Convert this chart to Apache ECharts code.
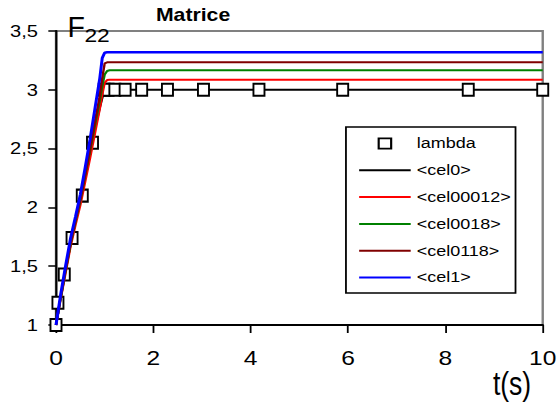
<!DOCTYPE html>
<html>
<head>
<meta charset="utf-8">
<script src="https://cdn.jsdelivr.net/npm/echarts@6/dist/echarts.min.js"></script>
<style>
html,body{margin:0;padding:0;background:#fff;overflow:hidden;width:560px;height:403px;}
#chart{width:467px;height:403px;transform:scaleX(1.19914);transform-origin:0 0;}
</style>
</head>
<body>
<div id="chart"></div>
<script>
// ---- data ----
const lambdaT = [0, 0.04, 0.17, 0.33, 0.54, 0.75, 0.99, 1.07, 1.21, 1.42, 1.76, 2.29, 3.03, 4.17, 5.89, 8.47, 10];
const lambdaV = [1, 1.19, 1.43, 1.74, 2.10, 2.55, 3, 3, 3, 3, 3, 3, 3, 3, 3, 3, 3];

const tLines   = [0, 0.1, 0.2, 0.3, 0.4, 0.5, 0.6, 0.7, 0.8, 0.9, 0.95, 1.0, 1.05, 1.1, 10];
const cel0     = [1, 1.24, 1.47, 1.69, 1.88, 2.06, 2.26, 2.46, 2.67, 2.85, 2.93, 3.0, 3.0, 3.0, 3.0];
const cel00012 = [1, 1.23, 1.45, 1.67, 1.85, 2.02, 2.22, 2.42, 2.63, 2.84, 2.96, 3.06, 3.083, 3.085, 3.085];
const cel0018  = [1, 1.24, 1.47, 1.69, 1.88, 2.06, 2.27, 2.48, 2.70, 2.91, 3.03, 3.13, 3.16, 3.166, 3.166];
const cel0118  = [1, 1.25, 1.48, 1.70, 1.89, 2.07, 2.28, 2.50, 2.73, 2.95, 3.10, 3.225, 3.234, 3.234, 3.234];
const cel1     = [1, 1.27, 1.51, 1.74, 1.92, 2.11, 2.34, 2.58, 2.84, 3.10, 3.27, 3.315, 3.319, 3.319, 3.319];

const seriesNames = ['lambda', '<cel0>', '<cel00012>', '<cel0018>', '<cel0118>', '<cel1>'];
const lineColors  = ['#000000', '#ff0000', '#008000', '#800000', '#0000ff'];
const lineValues  = [cel0, cel00012, cel0018, cel0118, cel1];

const titleText = 'Matrice';
const yName = 'F';
const yNameSub = '22';
const xName = 't(s)';

// ---- build ----
const FONT = 'Liberation Sans, Arial, sans-serif';
const pairs = (xs, ys) => xs.map((x, i) => [x, ys[i]]);

const lineSeries = lineValues.map((vals, i) => ({
  name: seriesNames[i + 1],
  type: 'line',
  data: pairs(tLines, vals),
  symbol: 'none',
  smooth: false,
  z: i === 0 ? 2 : 4,
  lineStyle: { color: lineColors[i], width: i === 4 ? 2.5 : 2 },
  itemStyle: { color: lineColors[i] }
}));

const lambdaSeries = {
  name: seriesNames[0],
  type: 'line',
  data: pairs(lambdaT, lambdaV),
  symbol: 'rect',
  symbolSize: [9.2, 12],
  showSymbol: true,
  z: 3,
  lineStyle: { width: 0 },
  itemStyle: { color: '#ffffff', borderColor: '#000000', borderWidth: 1.8 }
};

const chart = echarts.init(document.getElementById('chart'), null, { renderer: 'svg' });
chart.setOption({
  animation: false,
  backgroundColor: '#ffffff',
  grid: {
    left: 46.7, right: 12.5, top: 31, bottom: 78,
    show: true, borderColor: '#808080', borderWidth: 2, backgroundColor: 'transparent'
  },
  xAxis: {
    type: 'value', min: 0, max: 10, interval: 2,
    axisLine: { onZero: false, lineStyle: { color: '#000', width: 2 } },
    axisTick: { show: true, inside: false, length: 8, lineStyle: { color: '#000', width: 1.5 } },
    axisLabel: { color: '#000', fontFamily: FONT, fontSize: 20.5, margin: 23 },
    splitLine: { show: false }
  },
  yAxis: {
    type: 'value', min: 1, max: 3.5, interval: 0.5,
    axisLine: { show: true, onZero: false, lineStyle: { color: '#000', width: 1.8 } },
    axisTick: { show: true, inside: false, length: 6.4, lineStyle: { color: '#000', width: 1.5 } },
    axisLabel: {
      color: '#000', fontFamily: FONT, fontSize: 16.8, margin: 15,
      formatter: v => String(v).replace('.', ',')
    },
    splitLine: { show: false }
  },
  legend: {
    orient: 'vertical',
    left: 288.5, top: 127,
    padding: [9, 4, 8, 10],
    itemWidth: 43, itemHeight: 13, itemGap: 11.8,
    backgroundColor: '#ffffff',
    borderColor: '#000000', borderWidth: 1.5,
    textStyle: { color: '#000', fontFamily: FONT, fontSize: 15 },
    selectedMode: false,
    data: [
      { name: seriesNames[0], itemStyle: { color: '#ffffff', borderColor: '#000000', borderWidth: 1.8 } },
      ...seriesNames.slice(1).map(n => ({ name: n, itemStyle: { opacity: 0 } }))
    ]
  },
  graphic: [
    { type: 'text', x: 161, y: 14.3, z: 10,
      style: { text: titleText, font: 'bold 17.7px ' + FONT, fill: '#000', textAlign: 'center', textVerticalAlign: 'middle' } },
    { type: 'text', x: 56.2, y: 26.6, scaleX: 0.82, z: 10,
      style: { text: yName, font: '29px ' + FONT, fill: '#000', textAlign: 'left', textVerticalAlign: 'middle' } },
    { type: 'text', x: 70.4, y: 35.1, z: 10,
      style: { text: yNameSub, font: '19px ' + FONT, fill: '#000', textAlign: 'left', textVerticalAlign: 'middle' } },
    { type: 'text', x: 427, y: 383, scaleX: 0.65, z: 10,
      style: { text: xName, font: '34px ' + FONT, fill: '#000', textAlign: 'center', textVerticalAlign: 'middle' } }
  ],
  series: [lambdaSeries, ...lineSeries]
});
</script>
</body>
</html>
